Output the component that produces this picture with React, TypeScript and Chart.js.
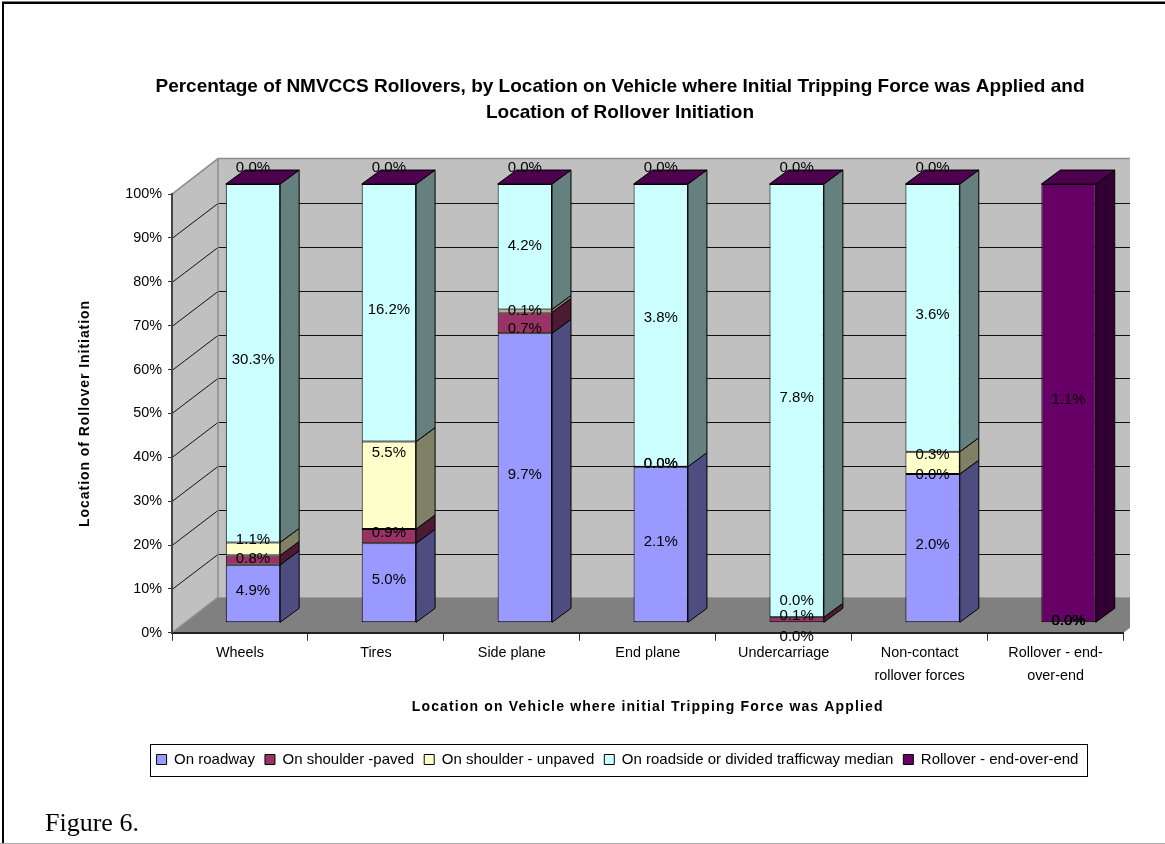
import React, { useEffect, useRef } from "react";
import { Chart, registerables } from "chart.js";

Chart.register(...registerables);

const categories = [
  "Wheels",
  "Tires",
  "Side plane",
  "End plane",
  "Undercarriage",
  ["Non-contact", "rollover forces"],
  ["Rollover - end-", "over-end"],
];
const seriesNames = [
  "On roadway",
  "On shoulder -paved",
  "On shoulder - unpaved",
  "On roadside or divided trafficway median",
  "Rollover - end-over-end",
];
const onRoadway = [4.9, 5.0, 9.7, 2.1, 0, 2.0, 0];
const onShoulderPaved = [0.8, 0.9, 0.7, 0, 0.1, 0, 0];
const onShoulderUnpaved = [1.1, 5.5, 0.1, 0, 0, 0.3, 0];
const onRoadside = [30.3, 16.2, 4.2, 3.8, 7.8, 3.6, 0];
const rolloverEnd = [0, 0, 0, 0, 0, 0, 1.1];
const rawSeries = [onRoadway, onShoulderPaved, onShoulderUnpaved, onRoadside, rolloverEnd];

const frontColors = ["#9999ff", "#993366", "#ffffcc", "#ccffff", "#660066"];
const sideColors = ["#4d4d80", "#4d1a33", "#808066", "#668080", "#330033"];
const topColor = "#4d004d";

const totals = categories.map((_, c) => rawSeries.reduce((s, r) => s + r[c], 0));
const shares = rawSeries.map((r) => r.map((v, c) => (v / totals[c]) * 100));

// chart geometry
const W = 1165;
const H = 844;
const LEFT = 172;
const RIGHT = 1123.5;
const TOP = 194;
const BOTTOM = 632.8;
const WALL_DX = 46;
const WALL_DY = -35.5;
const WALL_CLIP = 1130;
const BAR_DX = 13;
const BAR_DY = -10;
const DEPTH_DX = 19;
const DEPTH_DY = -14;
const PAD_L = 116.5;
const PAD_R = W - RIGHT;
const LEGEND_BOTTOM = 777;
const FONT = "'Liberation Sans', Arial, sans-serif";

// label drift of the source renderer, "series,category": dy
const labelDefaultDy = -3;
const labelDy: Record<string, number> = {
  "1,0": -1, "2,0": -9.5,
  "2,1": -32,
  "1,2": 6, "2,2": 0, "3,2": -1,
  "3,3": -7,
  "0,4": 14, "1,4": -4, "2,4": -16,
  "1,5": 1, "2,5": -8,
  "0,6": -2, "1,6": -2, "2,6": -2, "3,6": -2,
};

function spacedTitle(scale: any, spacing: string) {
  if (scale.__spaced) return;
  scale.__spaced = true;
  const orig = scale.drawTitle;
  scale.drawTitle = function () {
    const ctx = this.ctx;
    ctx.letterSpacing = spacing;
    orig.call(this);
    ctx.letterSpacing = "0px";
  };
}

const scenePlugin = {
  id: "scene3d",
  afterLayout(chart: any) {
    chart.legend.left -= 2.5;
    chart.legend.right -= 2.5;
  },
  beforeDraw(chart: any) {
    const { ctx } = chart;
    const y = chart.scales.y;
    const y0 = y.getPixelForValue(0);
    const y100 = y.getPixelForValue(100);
    ctx.save();
    // back wall
    ctx.fillStyle = "#c0c0c0";
    ctx.fillRect(LEFT + WALL_DX, y100 + WALL_DY, WALL_CLIP - LEFT - WALL_DX, y0 - y100);
    // left wall
    ctx.beginPath();
    ctx.moveTo(LEFT, y100);
    ctx.lineTo(LEFT + WALL_DX, y100 + WALL_DY);
    ctx.lineTo(LEFT + WALL_DX, y0 + WALL_DY);
    ctx.lineTo(LEFT, y0);
    ctx.closePath();
    ctx.fill();
    // floor
    ctx.fillStyle = "#808080";
    ctx.beginPath();
    ctx.moveTo(LEFT, y0);
    ctx.lineTo(LEFT + WALL_DX, y0 + WALL_DY);
    ctx.lineTo(WALL_CLIP, y0 + WALL_DY);
    ctx.lineTo(WALL_CLIP, y0 - 5);
    ctx.lineTo(RIGHT, y0);
    ctx.closePath();
    ctx.fill();
    // grid lines on both walls
    ctx.lineWidth = 1;
    ctx.strokeStyle = "#111111";
    y.ticks.forEach((t: any) => {
      if (t.value === 0 || t.value === 100) return;
      const p = Math.round(y.getPixelForValue(t.value)) + 0.5;
      const q = Math.round(p + WALL_DY) + 0.5;
      ctx.beginPath();
      ctx.moveTo(LEFT, p);
      ctx.lineTo(LEFT + WALL_DX, q);
      ctx.lineTo(WALL_CLIP, q);
      ctx.stroke();
    });
    // wall outline
    ctx.strokeStyle = "#8c8c8c";
    ctx.lineWidth = 1.5;
    ctx.beginPath();
    ctx.moveTo(LEFT, y100);
    ctx.lineTo(LEFT + WALL_DX, y100 + WALL_DY);
    ctx.lineTo(WALL_CLIP, y100 + WALL_DY);
    ctx.moveTo(LEFT + WALL_DX, y100 + WALL_DY);
    ctx.lineTo(LEFT + WALL_DX, y0 + WALL_DY);
    ctx.lineTo(LEFT, y0);
    ctx.stroke();
    ctx.restore();
  },
  beforeDatasetsDraw(chart: any) {
    const { ctx } = chart;
    ctx.save();
    ctx.translate(BAR_DX, BAR_DY);
    ctx.strokeStyle = "#000000";
    ctx.lineWidth = 1;
    ctx.lineJoin = "round";
    chart.data.datasets.forEach((_: any, s: number) => {
      chart.getDatasetMeta(s).data.forEach((bar: any) => {
        const r = bar.x + bar.width / 2;
        if (Math.abs(bar.base - bar.y) < 0.01) return;
        ctx.fillStyle = sideColors[s];
        ctx.beginPath();
        ctx.moveTo(r, bar.y);
        ctx.lineTo(r + DEPTH_DX, bar.y + DEPTH_DY);
        ctx.lineTo(r + DEPTH_DX, bar.base + DEPTH_DY);
        ctx.lineTo(r, bar.base);
        ctx.closePath();
        ctx.fill();
        ctx.stroke();
      });
    });
    // top face of every column
    chart.getDatasetMeta(chart.data.datasets.length - 1).data.forEach((bar: any) => {
      const l = bar.x - bar.width / 2;
      const r = bar.x + bar.width / 2;
      ctx.fillStyle = topColor;
      ctx.beginPath();
      ctx.moveTo(l, bar.y);
      ctx.lineTo(l + DEPTH_DX, bar.y + DEPTH_DY);
      ctx.lineTo(r + DEPTH_DX, bar.y + DEPTH_DY);
      ctx.lineTo(r, bar.y);
      ctx.closePath();
      ctx.fill();
      ctx.stroke();
    });
    ctx.restore();
  },
  beforeDatasetDraw(chart: any) {
    chart.ctx.save();
    chart.ctx.translate(BAR_DX, BAR_DY);
  },
  afterDatasetDraw(chart: any) {
    chart.ctx.restore();
  },
  afterDatasetsDraw(chart: any) {
    const { ctx } = chart;
    ctx.save();
    ctx.translate(BAR_DX, BAR_DY);
    ctx.font = `15px ${FONT}`;
    ctx.fillStyle = "#000000";
    ctx.textAlign = "center";
    ctx.textBaseline = "middle";
    chart.data.datasets.forEach((_: any, s: number) => {
      chart.getDatasetMeta(s).data.forEach((bar: any, c: number) => {
        const v = rawSeries[s][c];
        const isTopZero = s === rawSeries.length - 1 && v === 0;
        const key = `${s},${c}`;
        const dy = isTopZero ? -16 : key in labelDy ? labelDy[key] : labelDefaultDy;
        ctx.fillText(`${v.toFixed(1)}%`, bar.x, (bar.y + bar.base) / 2 + dy);
      });
    });
    ctx.restore();
  },
  afterDraw(chart: any) {
    const { ctx } = chart;
    ctx.save();
    ctx.strokeStyle = "#000000";
    ctx.lineWidth = 1;
    ctx.strokeRect(150.5, 744.5, 937, 32);
    ctx.restore();
  },
};

export default function App() {
  const ref = useRef<HTMLCanvasElement | null>(null);
  useEffect(() => {
    if (!ref.current) return;
    const chart = new Chart(ref.current, {
      type: "bar",
      data: {
        labels: categories as any,
        datasets: seriesNames.map((name, s) => ({
          label: name,
          data: shares[s],
          backgroundColor: frontColors[s],
          borderColor: "#000000",
          borderWidth: 1,
          borderSkipped: false,
          clip: false as any,
          categoryPercentage: 1,
          barPercentage: 0.4,
          stack: "all",
        })),
      },
      options: {
        responsive: false,
        animation: false,
        devicePixelRatio: 1,
        layout: { padding: { left: PAD_L, right: PAD_R, top: 0, bottom: H - LEGEND_BOTTOM } },
        scales: {
          x: {
            stacked: true,
            afterFit(scale: any) {
              scale.height = LEGEND_BOTTOM - scale.chart.legend.height - BOTTOM;
              spacedTitle(scale, "1.15px");
            },
            grid: { drawOnChartArea: false, drawTicks: true, tickLength: 8, color: "#333333", lineWidth: 1 },
            border: { color: "#222222", width: 2 },
            ticks: {
              autoSkip: false,
              maxRotation: 0,
              minRotation: 0,
              padding: 1.5,
              color: "#000000",
              font: { family: FONT, size: 14.4, lineHeight: 1.55 },
            },
            title: {
              display: true,
              text: "Location on Vehicle where initial Tripping Force was Applied",
              color: "#000000",
              font: { family: FONT, size: 14, weight: "bold" },
              padding: { top: 0, bottom: 26.6 },
            },
          },
          y: {
            stacked: true,
            min: 0,
            max: 100,
            afterFit(scale: any) {
              scale.width = LEFT - PAD_L;
              spacedTitle(scale, "0.95px");
            },
            grid: { drawOnChartArea: false, drawTicks: true, tickLength: 4, color: "#333333", lineWidth: 1 },
            border: { color: "#444444", width: 2 },
            ticks: {
              stepSize: 10,
              padding: 6,
              color: "#000000",
              font: { family: FONT, size: 14.4 },
              callback: (v: any) => `${v}%`,
            },
            title: {
              display: true,
              text: "Location of Rollover Initiation",
              color: "#000000",
              font: { family: FONT, size: 14, weight: "bold" },
              padding: { top: -40, bottom: 0 },
            },
          },
        },
        plugins: {
          title: {
            display: true,
            text: [
              "Percentage of NMVCCS Rollovers, by Location on Vehicle where Initial Tripping Force was Applied and",
              "Location of Rollover Initiation",
            ],
            color: "#000000",
            font: { family: FONT, size: 19, weight: "bold", lineHeight: 1.37 },
            padding: { top: 74, bottom: TOP - 74 - 52 },
          },
          legend: {
            display: true,
            position: "bottom",
            labels: {
              boxWidth: 10,
              boxHeight: 10,
              padding: 10,
              color: "#000000",
              font: { family: FONT, size: 15 },
            },
          },
          tooltip: { enabled: false },
        },
      },
      plugins: [scenePlugin],
    } as any);
    return () => chart.destroy();
  }, []);

  return (
    <div style={{ position: "fixed", left: 0, top: 0, width: W, height: H, overflow: "hidden", background: "#fff" }}>
      <canvas ref={ref} width={W} height={H} style={{ position: "absolute", left: 0, top: 0, display: "block" }} />
      <div style={{ position: "absolute", left: 2, top: 1, right: 0, height: 1, background: "#808080" }} />
      <div style={{ position: "absolute", left: 2, top: 2, right: 0, height: 2, background: "#000" }} />
      <div style={{ position: "absolute", left: 2, top: 2, width: 2, height: H, background: "#000" }} />
      <div style={{ position: "absolute", left: 0, bottom: 0, width: W, height: 1, background: "#aaa" }} />
      <div
        style={{
          position: "absolute",
          left: 45,
          top: 807,
          fontFamily: "'Liberation Serif', 'Times New Roman', serif",
          fontSize: 26,
          lineHeight: "32px",
          color: "#000",
        }}
      >
        Figure 6.
      </div>
    </div>
  );
}
